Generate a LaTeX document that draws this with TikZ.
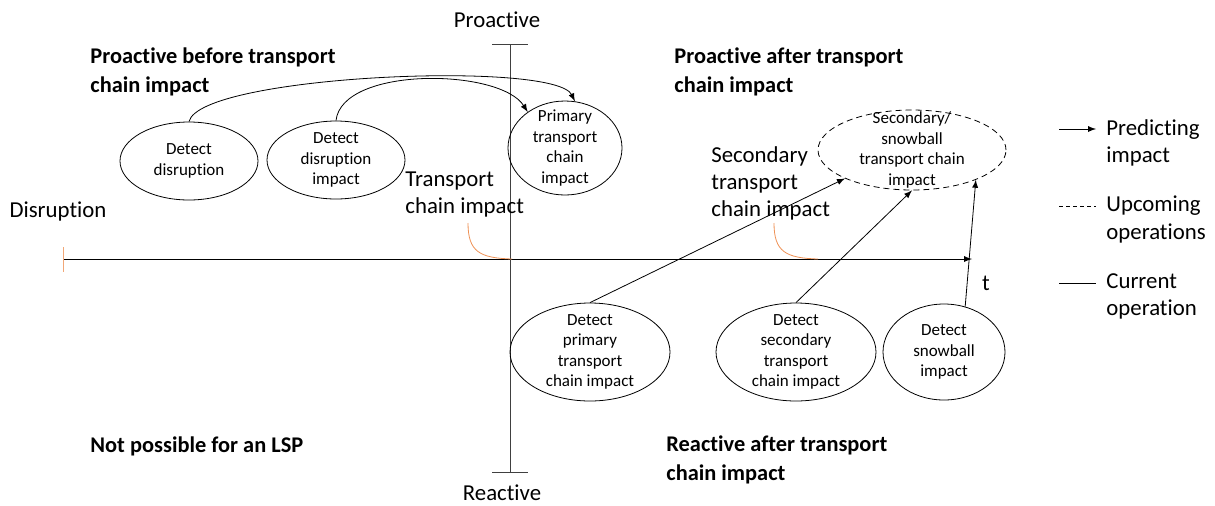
\documentclass[tikz,border=0pt]{standalone}
\usepackage{fontspec}
\setmainfont[Ligatures={NoCommon}]{Carlito}
\usepackage{tikz}
\usetikzlibrary{arrows,shapes.geometric}
\usetikzlibrary{positioning}
\definecolor{tickorange}{RGB}{238,145,85}
\tikzset{
  oval/.style={ellipse,draw,inner sep=0pt},
  ovaltext/.style={align=center,font=\fontsize{8.5}{10.2}\selectfont},
  txt/.style={align=left,inner sep=0pt,font=\fontsize{11.4}{13.6}\selectfont},
  head/.style={align=left,anchor=west,inner sep=0pt,font=\fontsize{11.2}{14.5}\selectfont\bfseries},
  predict/.style={-latex},
  upcoming/.style={dash pattern=on 3pt off 2pt},
}

\begin{document}
\begin{tikzpicture}[x=0.5pt,y=-0.5pt]
  \useasboundingbox (0,0) rectangle (1215,505);
  \coordinate (tstart) at (63,259);
  \coordinate (tend) at (972,259);
  \coordinate (ptop) at (510,44);
  \coordinate (pbot) at (510,472);
  \draw[-latex] (tstart) -- (tend);
  \draw[black!75] (ptop) -- (pbot);
  \draw[black!75] ([xshift=-9pt]ptop) -- ([xshift=9pt]ptop);
  \draw[black!75] ([xshift=-9pt]pbot) -- ([xshift=9pt]pbot);
  \draw[tickorange!80] ([yshift=6pt]tstart) -- ([yshift=-6.5pt]tstart);
  \node[txt] (pro) at (497,20) {Proactive};
  \node[txt] (rea) at (502,493) {Reactive};
  \node[txt] (dis) at (58,211) {Disruption};
  \node[txt] (t) at (986,283) {t};
  \node[head] (pbefore) at (90,71.5) {Proactive before transport\\chain impact};
  \node[head] (pafter) at (674,71.5) {Proactive after transport\\chain impact};
  \node[head] (nolsp) at (90,446) {Not possible for an LSP};
  \node[head] (rafter) at (666,460) {Reactive after transport\\chain impact};
  \node[txt,anchor=west] (tci) at (405,194.5) {Transport\\chain impact};
  \node[txt,anchor=west] (stci) at (711,183.5) {Secondary\\transport\\chain impact};
  \coordinate (tcitop) at (468,223);
  \coordinate (tciend) at (512,259);
  \coordinate (stcitop) at (774,223);
  \coordinate (stciend) at (818,259);
  \draw[tickorange] (tcitop) .. controls (468,252) and (480,258) .. (tciend);
  \draw[tickorange] (stcitop) .. controls (774,252) and (786,258) .. (stciend);

  \node[oval,minimum width=69pt,minimum height=39pt,label={[ovaltext]center:Detect\\disruption}] (dd) at (189,161) {};
  \node[oval,minimum width=69pt,minimum height=39pt,label={[ovaltext]center:Detect\\disruption\\impact}] (ddi) at (336,160) {};
  \node[oval,minimum width=57pt,minimum height=47pt,label={[ovaltext]center:Primary\\transport\\chain\\impact}] (pti) at (565,148) {};
  \node[oval,upcoming,minimum width=94pt,minimum height=40pt,label={[ovaltext]center:Secondary/\\snowball\\transport chain\\impact}] (sn) at (912,150) {};
  \node[oval,minimum width=80pt,minimum height=49pt,label={[ovaltext]center:Detect\\primary\\transport\\chain impact}] (dpt) at (590,352) {};
  \node[oval,minimum width=80pt,minimum height=49pt,label={[ovaltext]center:Detect\\secondary\\transport\\chain impact}] (dst) at (796,352) {};
  \node[oval,minimum width=61pt,minimum height=48pt,label={[ovaltext]center:Detect\\snowball\\impact}] (dsb) at (944,352) {};

  \draw[predict] (dd.north) .. controls (200,75) and (555,60) .. (pti.78);
  \draw[predict] (ddi.north) .. controls (342,66) and (500,68) .. (pti.136);
  \draw[predict] (dpt.north) -- (sn.203);
  \draw[predict] (dst.north) -- (sn.south);
  \draw[predict] (dsb.65) -- (sn.335);

  \coordinate (lga) at (1059,129);
  \coordinate (lgb) at (1096,129);
  \coordinate (lgc) at (1059,206);
  \coordinate (lgd) at (1096,206);
  \coordinate (lge) at (1059,283);
  \coordinate (lgf) at (1096,283);
  \draw[predict] (lga) -- (lgb);
  \draw[dash pattern=on 2pt off 1.5pt] (lgc) -- (lgd);
  \draw (lge) -- (lgf);
  \node[txt,anchor=west] (lgpred) at (1106,143) {Predicting\\impact};
  \node[txt,anchor=west] (lgup) at (1106,219.5) {Upcoming\\operations};
  \node[txt,anchor=west] (lgcur) at (1106,296.5) {Current\\operation};
\end{tikzpicture}
\end{document}
